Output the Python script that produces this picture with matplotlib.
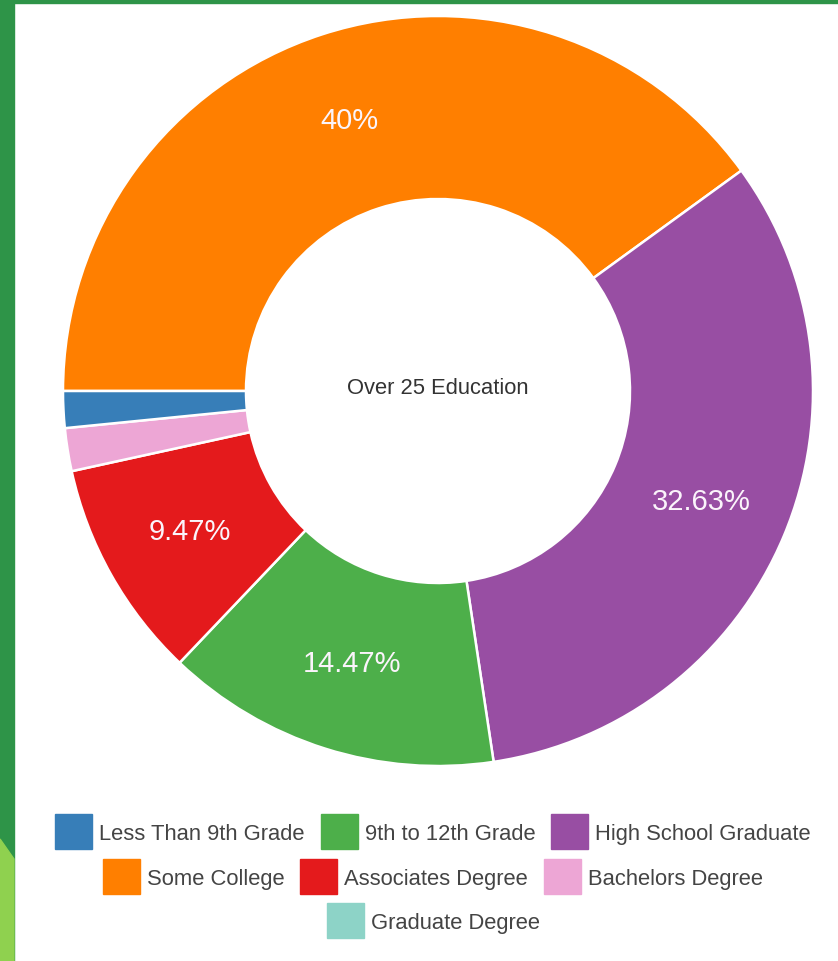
import matplotlib
matplotlib.use("Agg")
import matplotlib.pyplot as plt
from matplotlib.patches import Rectangle, Polygon

plt.rcParams['font.family'] = ['Liberation Sans', 'DejaVu Sans']

# Legend order (as in the reference legend)
legend_labels = ["Less Than 9th Grade", "9th to 12th Grade", "High School Graduate",
                 "Some College", "Associates Degree", "Bachelors Degree", "Graduate Degree"]
legend_colors = ["#377eb8", "#4daf4a", "#984ea3", "#ff7f00", "#e41a1c", "#eda6d5", "#8dd3c7"]
legend_rows = [[0, 1, 2], [3, 4, 5], [6]]

# Slice order (clockwise from 9 o'clock) and percentages
slice_labels = ["Some College", "High School Graduate", "9th to 12th Grade",
                "Associates Degree", "Bachelors Degree", "Less Than 9th Grade", "Graduate Degree"]
slice_values = [40.0, 32.63, 14.47, 9.47, 1.85, 1.58, 0.0]
center_title = "Over 25 Education"

W, H = 838, 962
fig = plt.figure(figsize=(W / 100, H / 100), dpi=100)
fig.patch.set_facecolor("white")

def fx(px):
    return px / W

def fy(py):
    return 1 - py / H

# green frame
fig.patches.append(Rectangle((0, fy(4)), 1, 4 / H, transform=fig.transFigure,
                             color="#2e9448", zorder=0))
fig.patches.append(Rectangle((0, 0), fx(14), 1, transform=fig.transFigure,
                             color="#2e9448", zorder=0))
fig.patches.append(Polygon([(0, fy(840)), (fx(14), fy(860)), (fx(14), 0), (0, 0)],
                           closed=True, transform=fig.transFigure, color="#8fd14f", zorder=1))

# pie axes
cx, cy, R = 438, 392, 375
ax = fig.add_axes([fx(cx - R), fy(cy + R), 2 * R / W, 2 * R / H])

color_of = dict(zip(legend_labels, legend_colors))
vals, cols = [], []
for lab, v in zip(slice_labels, slice_values):
    if v > 0:
        vals.append(v)
        cols.append(color_of[lab])

def fmt(p):
    if p < 5:
        return ""
    return f"{round(p, 2):g}%"

wedges, texts, autotexts = ax.pie(
    vals, colors=cols, startangle=180, counterclock=False, radius=1,
    wedgeprops=dict(width=0.488, edgecolor="white", linewidth=1.8),
    autopct=fmt, pctdistance=0.76,
    textprops=dict(color="#fbf4fb", fontsize=21))

ax.set_xlim(-1, 1)
ax.set_ylim(-1, 1)
ax.set_aspect("equal")
ax.axis("off")

ax.text(0, 0.01, center_title, ha="center", va="center", fontsize=15.8, color="#333333")

# custom centered legend
fig.canvas.draw()
renderer = fig.canvas.get_renderer()
fs = 15.8
sq_w, sq_h = 37, 35
gap_sq_text, gap_item = 7, 16
row_y = [832, 877, 921]
center_x = 433
for r, idxs in enumerate(legend_rows):
    widths = []
    for i in idxs:
        t = fig.text(0, 0, legend_labels[i], fontsize=fs)
        bb = t.get_window_extent(renderer)
        widths.append(bb.width)
        t.remove()
    total = sum(sq_w + gap_sq_text + w for w in widths) + gap_item * (len(idxs) - 1)
    x = center_x - total / 2
    for i, w in zip(idxs, widths):
        y = row_y[r]
        fig.patches.append(Rectangle((fx(x), fy(y + sq_h / 2)), sq_w / W, sq_h / H,
                                     transform=fig.transFigure, color=legend_colors[i], zorder=3))
        fig.text(fx(x + sq_w + gap_sq_text), fy(y), legend_labels[i], fontsize=fs,
                 color="#444444", ha="left", va="center_baseline")
        x += sq_w + gap_sq_text + w + gap_item

fig.savefig("out.png", dpi=100, facecolor=fig.get_facecolor())
